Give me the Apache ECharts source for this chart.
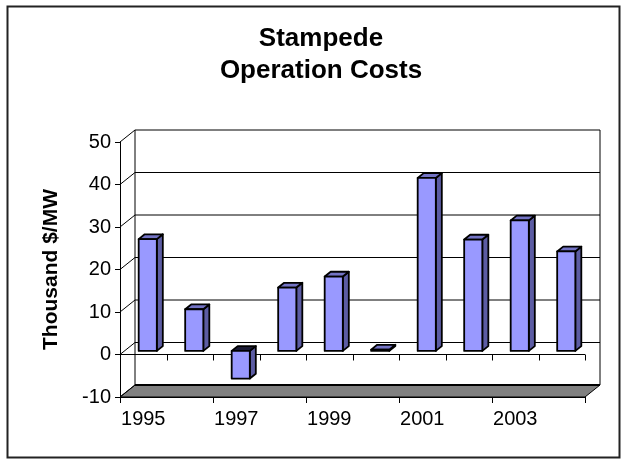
<!DOCTYPE html>
<html>
<head>
<meta charset="utf-8">
<script src="https://cdn.jsdelivr.net/npm/echarts@6/dist/echarts.min.js"></script>
<style>
html,body{margin:0;padding:0;background:#fff;}
#c{width:621px;height:459px;}
</style>
</head>
<body>
<div id="c"></div>
<script>
// ---- data ----
var categories = ['1995','1996','1997','1998','1999','2000','2001','2002','2003','2004'];
var costs = [26.3, 9.8, -6.5, 14.9, 17.5, 0.3, 40.7, 26.2, 30.7, 23.4];
var yTicks = [-10, 0, 10, 20, 30, 40, 50];
var titleLines = ['Stampede', 'Operation Costs'];
var yTitle = 'Thousand $/MW';

// ---- 3D look (style constants) ----
var DX = 15, DY = -12;          // depth offset of the back wall
var BAR_FRONT = 0.3, BAR_DEPTH = 0.4, BAR_W = 0.39;
var FONT = "'Liberation Sans', Arial, sans-serif";

var chart = echarts.init(document.getElementById('c'), null, {renderer: 'canvas'});

function frameItem(params, api) {
  var cs = params.coordSys;
  var left = cs.x, right = cs.x + cs.width;
  var band = cs.width / categories.length;
  var yMin = yTicks[0], yMax = yTicks[yTicks.length - 1];
  function yAt(v) { return api.coord([0, v])[1]; }
  var ch = [];
  var yb = yAt(yMin);
  // floor
  ch.push({type: 'polygon', shape: {points: [[left, yb], [right, yb], [right + DX, yb + DY], [left + DX, yb + DY]]},
    style: {fill: '#808080', stroke: '#000', lineWidth: 1}});
  ch.push({type: 'line', shape: {x1: left + DX, y1: yb + DY, x2: right + DX, y2: yb + DY},
    style: {stroke: '#000', lineWidth: 2}});
  // back wall grid lines + left wall diagonals
  yTicks.forEach(function (v) {
    var y = yAt(v);
    if (v !== yMin) {
      ch.push({type: 'line', shape: {x1: left + DX, y1: y + DY, x2: right + DX, y2: y + DY},
        style: {stroke: '#000', lineWidth: 1}});
    }
    ch.push({type: 'line', shape: {x1: left, y1: y, x2: left + DX, y2: y + DY},
      style: {stroke: '#000', lineWidth: 1}});
  });
  // back wall vertical edges
  ch.push({type: 'line', shape: {x1: left + DX, y1: yAt(yMax) + DY, x2: left + DX, y2: yb + DY}, style: {stroke: '#000', lineWidth: 1}});
  ch.push({type: 'line', shape: {x1: right + DX, y1: yAt(yMax) + DY, x2: right + DX, y2: yb + DY}, style: {stroke: '#000', lineWidth: 1}});
  // zero-level category axis on front plane
  var y0 = yAt(0);
  ch.push({type: 'line', shape: {x1: left, y1: y0, x2: right, y2: y0}, style: {stroke: '#000', lineWidth: 1}});
  for (var i = 0; i <= categories.length; i++) {
    var x = Math.round(left + i * band) + 0.5;
    ch.push({type: 'line', shape: {x1: x, y1: y0, x2: x, y2: y0 + 6}, style: {stroke: '#000', lineWidth: 1}});
  }
  return {type: 'group', children: ch};
}

function barItem(params, api) {
  var idx = api.value(0), val = api.value(1);
  var band = api.size([1, 0])[0];
  var c0 = api.coord([idx, 0]);
  var c1 = api.coord([idx, val]);
  var fx = BAR_FRONT * DX, fy = BAR_FRONT * DY;
  var dx = BAR_DEPTH * DX, dy = BAR_DEPTH * DY;
  var w = band * BAR_W;
  var xl = c0[0] + fx - w / 2, xr = xl + w;
  var ya = c0[1] + fy, yb = c1[1] + fy;
  var yTop = Math.min(ya, yb), yBot = Math.max(ya, yb);
  var st = {stroke: '#000', lineWidth: 1.8, lineJoin: 'round'};
  var topFill = val < 0 ? '#1a1a33' : '#7373C4';
  return {type: 'group', children: [
    {type: 'polygon', shape: {points: [[xr, yTop], [xr + dx, yTop + dy], [xr + dx, yBot + dy], [xr, yBot]]},
      style: Object.assign({fill: '#5C5CA3'}, st)},
    {type: 'polygon', shape: {points: [[xl, yTop], [xr, yTop], [xr + dx, yTop + dy], [xl + dx, yTop + dy]]},
      style: Object.assign({fill: topFill}, st)},
    {type: 'rect', shape: {x: xl, y: yTop, width: w, height: Math.max(yBot - yTop, 0)},
      style: Object.assign({fill: '#9999FF'}, st)}
  ]};
}

var option = {
  backgroundColor: '#fff',
  animation: false,
  title: {
    text: titleLines.join('\n'),
    left: 316, textAlign: 'center', top: 18,
    textStyle: {fontFamily: FONT, fontSize: 26, fontWeight: 'bold', color: '#000', lineHeight: 32}
  },
  graphic: [{
    type: 'rect', left: 5, top: 4, shape: {width: 612, height: 451},
    style: {fill: 'none', stroke: '#222', lineWidth: 2}, silent: true, z: -10
  }],
  grid: {left: 120, right: 36, top: 142, bottom: 62},
  xAxis: {
    type: 'category', data: categories,
    axisLine: {onZero: false, lineStyle: {color: '#000', width: 1}},
    axisTick: {show: true, length: 6, lineStyle: {color: '#000'}},
    axisLabel: {interval: 1, fontFamily: FONT, fontSize: 20, color: '#000', margin: 12},
    splitLine: {show: false}
  },
  yAxis: {
    type: 'value', min: yTicks[0], max: yTicks[yTicks.length - 1], interval: 10,
    axisLine: {show: true, lineStyle: {color: '#000', width: 1}},
    axisTick: {show: true, length: 5, lineStyle: {color: '#000'}},
    axisLabel: {fontFamily: FONT, fontSize: 20, color: '#000', margin: 9},
    splitLine: {show: false},
    name: yTitle, nameLocation: 'middle', nameRotate: 90, nameGap: 58,
    nameTextStyle: {fontFamily: FONT, fontSize: 21, fontWeight: 'bold', color: '#000'}
  },
  series: [
    {type: 'custom', renderItem: frameItem, data: [[0, 0]], z: 1, silent: true,
      encode: {x: 0, y: 1}},
    {type: 'custom', renderItem: barItem, z: 3,
      data: costs.map(function (v, i) { return [i, v]; }),
      encode: {x: 0, y: 1}}
  ]
};
chart.setOption(option);
</script>
</body>
</html>
